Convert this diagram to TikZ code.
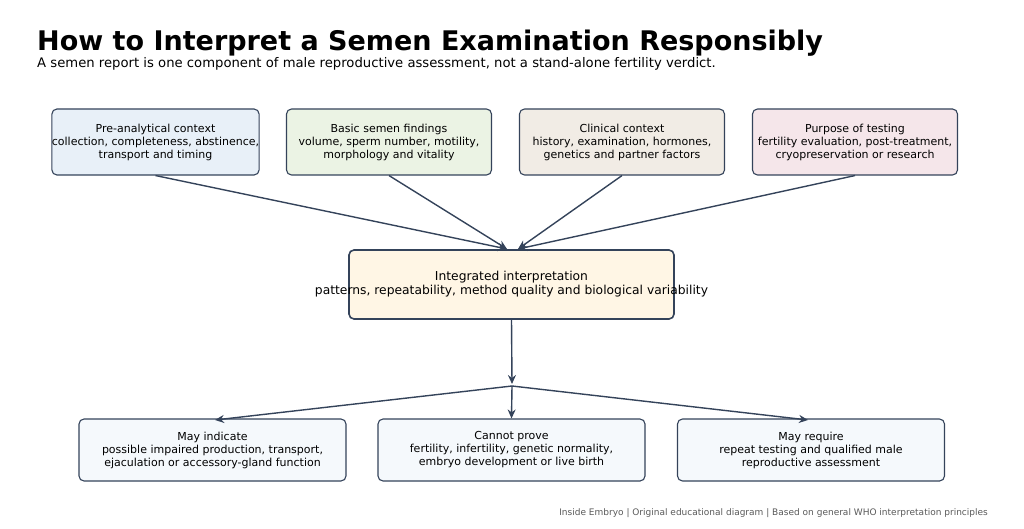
\documentclass[tikz,border=0pt]{standalone}
\usepackage{fontspec}
\setmainfont{DejaVu Sans}
\usetikzlibrary{arrows.meta}
\definecolor{edge}{HTML}{34435A}
\definecolor{cb}{HTML}{E8F0F8}
\definecolor{cg}{HTML}{EBF3E4}
\definecolor{cy}{HTML}{F1ECE5}
\definecolor{cp}{HTML}{F5E6EA}
\definecolor{cc}{HTML}{FFF6E5}
\definecolor{cl}{HTML}{F5F9FC}
\begin{document}
\begin{tikzpicture}[x=1pt,y=-1pt,
  box/.style={draw=edge,line width=1.1pt,rounded corners=5pt,align=center,font=\fontsize{11}{13}\selectfont,inner sep=0pt},
  top/.style={box,minimum width=205pt,minimum height=66pt},
  bot/.style={box,minimum width=267pt,minimum height=62pt},
  arr/.style={draw=edge,line width=1.4pt,-{Stealth[length=9pt,width=8pt]}}]
\useasboundingbox (0,0) rectangle (1024,529);
\node[anchor=base west,font=\fontsize{27}{30}\bfseries\selectfont,inner sep=0pt] (t) at (37,51) {How to Interpret a Semen Examination Responsibly};
\node[anchor=base west,font=\fontsize{13.2}{15}\selectfont,inner sep=0pt] (s) at (37,68) {A semen report is one component of male reproductive assessment, not a stand-alone fertility verdict.};
\node[top,fill=cb] (a) at (155.5,142) {Pre-analytical context\\collection, completeness, abstinence,\\transport and timing};
\node[top,fill=cg] (b) at (389,142) {Basic semen findings\\volume, sperm number, motility,\\morphology and vitality};
\node[top,fill=cy] (c) at (622,142) {Clinical context\\history, examination, hormones,\\genetics and partner factors};
\node[top,fill=cp] (d) at (855,142) {Purpose of testing\\fertility evaluation, post-treatment,\\cryopreservation or research};
\node[draw=edge,fill=cc,line width=1.6pt,rounded corners=5pt,minimum width=325pt,minimum height=69pt,inner sep=0pt] (m) at (511.5,284.5) {};
\node[align=center,font=\fontsize{12.3}{14}\selectfont,inner sep=0pt] (mt) at (m.center) {Integrated interpretation\\patterns, repeatability, method quality and biological variability};
\coordinate (l) at (507,249);
\coordinate (r) at (518,249);
\draw[arr] (a.south) -- (l);
\draw[arr] (b.south) -- (l);
\draw[arr] (c.south) -- (r);
\draw[arr] (d.south) -- (r);
\coordinate (j) at (512,386);
\draw[arr] (m.south) -- (512,384);
\node[bot,fill=cl] (x) at (212.5,450) {May indicate\\possible impaired production, transport,\\ejaculation or accessory-gland function};
\node[bot,fill=cl] (y) at (511.5,450) {Cannot prove\\fertility, infertility, genetic normality,\\embryo development or live birth};
\node[bot,fill=cl] (z) at (811,450) {May require\\repeat testing and qualified male\\reproductive assessment};
\draw[arr] (j) -- (215,420);
\draw[arr] (j) -- (y.north);
\draw[arr] (j) -- (808,420);
\node[anchor=base east,text=black!65,font=\fontsize{9}{10}\selectfont,inner sep=0pt] (f) at (988,515) {Inside Embryo | Original educational diagram | Based on general WHO interpretation principles};
\end{tikzpicture}
\end{document}
